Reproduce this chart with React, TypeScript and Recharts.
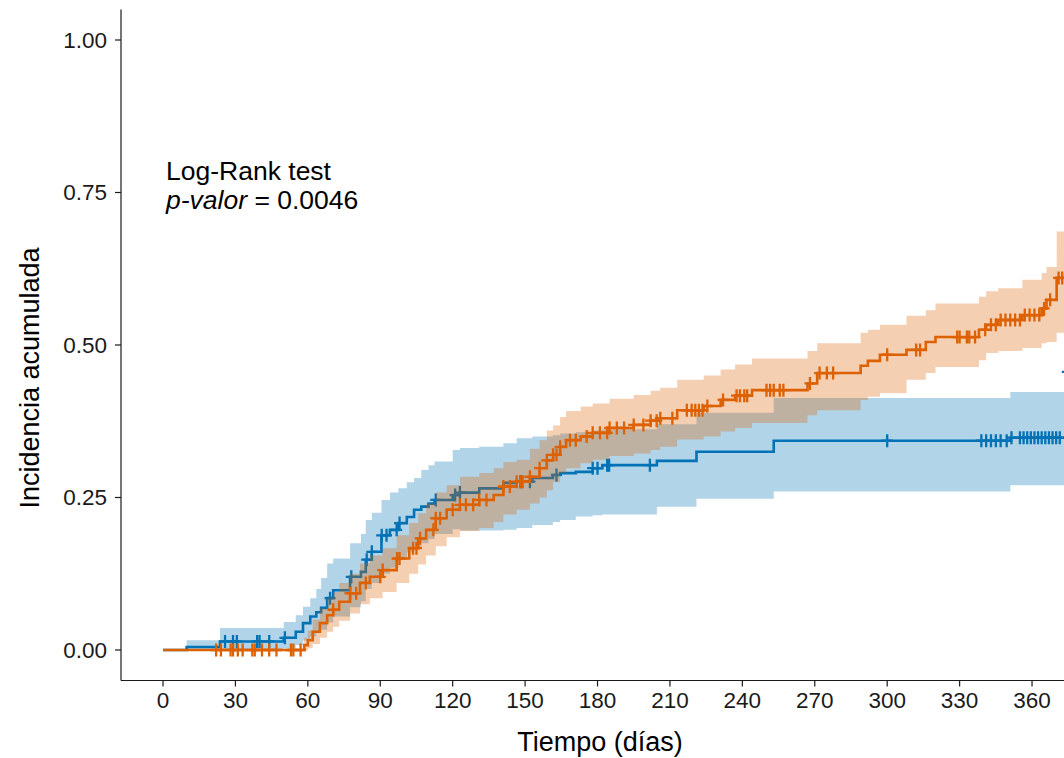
import React from "react";
import { ComposedChart, Line, Area, Scatter, XAxis, YAxis } from "recharts";

const BLUE = "#0072B5";
const ORANGE = "#DD6100";
const FONT = "'Liberation Sans', Arial, sans-serif";

const xTicks = [0, 30, 60, 90, 120, 150, 180, 210, 240, 270, 300, 330, 360];
const yTicks = [0, 0.25, 0.5, 0.75, 1];

// Blue stratum: step times, estimate, lower and upper confidence limits
const blueTimes = [0, 9.8, 23.6, 50, 55, 58, 61, 63.5, 65.5, 68, 70.5, 77.5, 82, 84, 86.5, 90.5, 94, 97.5, 101, 104, 107, 110, 112.5, 120, 123, 131, 141, 146.5, 153, 161.5, 164.5, 171, 178, 182, 204.6, 221, 253, 351, 373.8, 380];
const blueEst = [0, 0.005, 0.014, 0.02, 0.03, 0.044, 0.055, 0.062, 0.069, 0.085, 0.098, 0.12, 0.128, 0.148, 0.161, 0.188, 0.197, 0.208, 0.218, 0.23, 0.235, 0.24, 0.246, 0.254, 0.258, 0.265, 0.274, 0.276, 0.282, 0.287, 0.29, 0.292, 0.298, 0.303, 0.31, 0.325, 0.343, 0.348, 0.456, 0.456];
const blueLow = [0, 0, 0, 0.003, 0.008, 0.015, 0.022, 0.028, 0.033, 0.045, 0.055, 0.07, 0.08, 0.1, 0.11, 0.125, 0.135, 0.148, 0.16, 0.168, 0.175, 0.182, 0.19, 0.198, 0.196, 0.196, 0.197, 0.2, 0.205, 0.21, 0.213, 0.219, 0.221, 0.222, 0.235, 0.248, 0.26, 0.27, 0.27, 0.27];
const blueHigh = [0, 0.016, 0.036, 0.046, 0.057, 0.071, 0.085, 0.1, 0.118, 0.142, 0.15, 0.175, 0.19, 0.213, 0.225, 0.246, 0.258, 0.265, 0.275, 0.282, 0.295, 0.303, 0.309, 0.328, 0.331, 0.333, 0.339, 0.347, 0.35, 0.352, 0.355, 0.357, 0.36, 0.362, 0.37, 0.389, 0.413, 0.423, 0.423, 0.423];
const blueCensor = [25.7, 29, 30.6, 39, 40, 44, 50.5, 69.2, 78, 84.4, 86.5, 90.6, 92.6, 96.8, 98, 113, 121, 123, 148, 148.6, 152, 163, 178, 180, 184, 184.8, 201.7, 300, 339, 341, 343, 345, 347, 349.5, 351.5, 355, 356.5, 358, 359.5, 361, 362.5, 364, 365.5, 367, 368.5, 370, 371.5, 374.6];

// Orange stratum
const orangeTimes = [0, 58.5, 60, 62, 65, 68, 70.5, 73, 77.5, 81.6, 85.7, 91, 96.8, 102, 105.7, 109, 113, 117.5, 123, 131, 137, 141, 146.5, 152, 156, 159, 161.6, 164.5, 167, 173, 178, 185, 195, 202, 206, 213, 224, 231, 237, 244, 267, 271, 289, 292, 297, 308, 316, 320, 338, 341, 346, 356, 364, 366, 370.2, 380];
const orangeEst = [0, 0.008, 0.016, 0.03, 0.044, 0.057, 0.066, 0.079, 0.093, 0.11, 0.12, 0.131, 0.15, 0.167, 0.183, 0.197, 0.216, 0.23, 0.238, 0.246, 0.254, 0.268, 0.276, 0.284, 0.298, 0.311, 0.32, 0.333, 0.344, 0.35, 0.356, 0.364, 0.369, 0.376, 0.38, 0.393, 0.4, 0.41, 0.417, 0.426, 0.437, 0.454, 0.466, 0.474, 0.484, 0.492, 0.505, 0.513, 0.525, 0.533, 0.541, 0.549, 0.56, 0.574, 0.61, 0.61];
const orangeLow = [0, 0, 0.003, 0.01, 0.02, 0.03, 0.038, 0.048, 0.06, 0.075, 0.085, 0.095, 0.11, 0.125, 0.14, 0.155, 0.17, 0.185, 0.195, 0.2, 0.21, 0.222, 0.23, 0.24, 0.25, 0.262, 0.275, 0.29, 0.298, 0.306, 0.312, 0.318, 0.322, 0.328, 0.333, 0.345, 0.35, 0.358, 0.364, 0.372, 0.385, 0.393, 0.41, 0.415, 0.421, 0.443, 0.454, 0.464, 0.475, 0.487, 0.49, 0.495, 0.503, 0.505, 0.52, 0.52];
const orangeHigh = [0, 0.02, 0.032, 0.05, 0.068, 0.085, 0.095, 0.11, 0.125, 0.142, 0.155, 0.167, 0.188, 0.208, 0.224, 0.24, 0.258, 0.27, 0.284, 0.29, 0.298, 0.308, 0.312, 0.33, 0.344, 0.36, 0.368, 0.382, 0.392, 0.399, 0.404, 0.412, 0.418, 0.425, 0.43, 0.443, 0.45, 0.46, 0.468, 0.478, 0.49, 0.503, 0.52, 0.525, 0.533, 0.548, 0.557, 0.568, 0.579, 0.588, 0.593, 0.607, 0.618, 0.628, 0.686, 0.686];
const orangeCensor = [22, 24, 28, 29, 31, 33, 37, 38, 41, 44, 47, 53, 54, 57, 70.5, 77.5, 80, 84, 90, 91, 97, 98, 103.6, 105, 106.5, 112, 113, 114.8, 120, 123, 125.5, 128.5, 131, 134, 141, 143.7, 146.5, 148, 149, 152, 156, 159, 161.6, 163, 164.5, 168.6, 171, 175.5, 178, 181, 184, 185, 188, 191, 195, 199, 202, 204.5, 206, 211, 217, 219, 220.5, 222, 223.5, 225.5, 232, 237.6, 239, 240.8, 242, 250, 251.5, 253, 255.5, 257, 268, 272, 275, 277.6, 300, 312, 313.6, 329, 330, 333, 334, 336.4, 340.6, 343, 345, 347, 349, 351, 353, 355, 357, 359, 361, 363, 365, 367.5, 371, 372.5];

const buildRows = (times: number[], est: number[], lo: number[], hi: number[]) =>
  times.map((t, i) => ({ t, est: est[i], band: [lo[i], hi[i]] }));

const lookup = (times: number[], est: number[], t: number) => {
  let v = est[0];
  for (let i = 0; i < times.length; i++) {
    if (times[i] <= t) v = est[i];
  }
  return v;
};

const buildCensor = (cens: number[], times: number[], est: number[]) =>
  cens.map((t) => ({ t, y: lookup(times, est, t) }));

const blueData = buildRows(blueTimes, blueEst, blueLow, blueHigh);
const orangeData = buildRows(orangeTimes, orangeEst, orangeLow, orangeHigh);
const blueMarks = buildCensor(blueCensor, blueTimes, blueEst);
const orangeMarks = buildCensor(orangeCensor, orangeTimes, orangeEst);

const plus = (color: string) => (props: any) => {
  const { cx, cy } = props;
  if (cx == null || cy == null) return <g />;
  return (
    <path
      d={`M${cx - 5.5},${cy}H${cx + 5.5}M${cx},${cy - 6.5}V${cy + 6.5}`}
      stroke={color}
      strokeWidth={2.3}
      fill="none"
    />
  );
};

const tickStyle = { fontSize: 22.5, fill: "#1a1a1a", fontFamily: FONT };

export default function App() {
  return (
    <div style={{ position: "absolute", left: 0, top: 0, width: 1064, height: 758, overflow: "hidden", background: "#fff" }}>
      <ComposedChart width={1090} height={758} margin={{ top: 9.5, right: 15, bottom: 0, left: 0 }}>
        <XAxis
          type="number"
          dataKey="t"
          domain={[-17.4, 377.8]}
          ticks={xTicks}
          allowDataOverflow
          interval={0}
          height={77.5}
          tick={tickStyle}
          tickSize={6}
          tickMargin={6}
          axisLine={{ stroke: "#1a1a1a", strokeWidth: 1.2 }}
          tickLine={{ stroke: "#1a1a1a", strokeWidth: 1.2 }}
        />
        <YAxis
          type="number"
          domain={[-0.05, 1.05]}
          ticks={yTicks}
          allowDataOverflow
          interval={0}
          width={121}
          tickFormatter={(v: number) => v.toFixed(2)}
          tick={tickStyle}
          tickSize={6}
          tickMargin={8}
          axisLine={{ stroke: "#1a1a1a", strokeWidth: 1.2 }}
          tickLine={{ stroke: "#1a1a1a", strokeWidth: 1.2 }}
        />
        <Area data={blueData} dataKey="band" type="stepAfter" stroke="none" fill={BLUE} fillOpacity={0.3} isAnimationActive={false} zIndex={100} />
        <Line data={blueData} dataKey="est" type="stepAfter" stroke={BLUE} strokeWidth={2.6} dot={false} isAnimationActive={false} zIndex={101} />
        <Scatter data={blueMarks} dataKey="y" shape={plus(BLUE)} isAnimationActive={false} zIndex={102} />
        <Area data={orangeData} dataKey="band" type="stepAfter" stroke="none" fill={ORANGE} fillOpacity={0.3} isAnimationActive={false} zIndex={103} />
        <Line data={orangeData} dataKey="est" type="stepAfter" stroke={ORANGE} strokeWidth={2.6} dot={false} isAnimationActive={false} zIndex={104} />
        <Scatter data={orangeMarks} dataKey="y" shape={plus(ORANGE)} isAnimationActive={false} zIndex={105} />
      </ComposedChart>
      <svg width={1064} height={758} style={{ position: "absolute", left: 0, top: 0, pointerEvents: "none" }}>
        <text x={166} y={180} fontSize={26.5} fontFamily={FONT} fill="#000">Log-Rank test</text>
        <text x={166} y={209} fontSize={26.5} fontFamily={FONT} fill="#000">
          <tspan fontStyle="italic">p-valor</tspan> = 0.0046
        </text>
        <text x={600} y={751} fontSize={27} fontFamily={FONT} fill="#000" textAnchor="middle">Tiempo (días)</text>
        <text x={39} y={378} fontSize={27} fontFamily={FONT} fill="#000" textAnchor="middle" transform="rotate(-90 39 378)">Incidencia acumulada</text>
      </svg>
    </div>
  );
}
